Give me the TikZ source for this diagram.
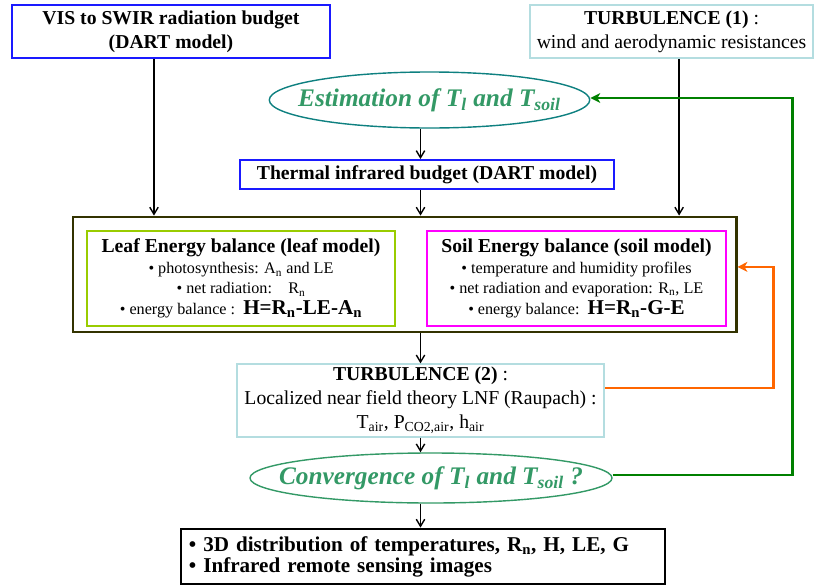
\documentclass[tikz,border=0pt]{standalone}
\usepackage{fontspec}
\setmainfont{Liberation Serif}
\usetikzlibrary{positioning, shapes.geometric, arrows.meta, calc}
\definecolor{dartblue}{HTML}{1A1AFF}
\definecolor{turbcyan}{HTML}{B4DDE0}
\definecolor{loopteal}{HTML}{0E8080}
\definecolor{loopgreen}{HTML}{339966}
\definecolor{backgreen}{HTML}{008000}
\definecolor{backorange}{HTML}{FF6600}
\definecolor{balolive}{HTML}{333300}
\definecolor{leafgreen}{HTML}{99CC00}
\definecolor{soilpink}{HTML}{FF00FF}

\begin{document}
\begin{tikzpicture}[x=0.025cm, y=-0.025cm,
        box/.style={draw, line width=1.4pt, inner sep=2pt, align=center,
                    font=\fontsize{14}{17}\selectfont},
        model/.style={draw, line width=0.8pt, inner sep=2pt, align=center,
                      font=\fontsize{11.5}{14}\selectfont},
        loop/.style={draw, ellipse, line width=1pt, inner ysep=0pt, text=loopgreen,
                     font=\fontsize{18}{20}\selectfont\bfseries\itshape},
        arr/.style={-{Straight Barb[length=5pt, width=6pt]}, line width=1pt},
        back/.style={-{Stealth[length=7pt, width=7pt, inset=2pt]}, line width=1.6pt}
    ]
    \useasboundingbox (0,0) rectangle (814,585);

    % Row 1: inputs
    \node[box, draw=dartblue, minimum width=7.95cm, minimum height=1.325cm] (vis) at (171,31.5)
        {\textbf{VIS to SWIR radiation budget}\\\textbf{(DART model)}};
    \node[box, draw=turbcyan, minimum width=7.075cm, minimum height=1.325cm] (turb1) at (671.5,31.5)
        {\textbf{TURBULENCE (1)} :\\wind and aerodynamic resistances};

    % Row 2: first estimate and thermal budget
    \node[loop, draw=loopteal, inner xsep=-0.45cm, minimum height=1.4cm] (estim) at (429.5,100)
        {Estimation of T\textsubscript{\textit{l}} and T\textsubscript{soil}};
    \node[box, draw=dartblue, minimum width=9.35cm, minimum height=0.725cm] (thermal) at (427,174.5)
        {\textbf{Thermal infrared budget (DART model)}};

    % Row 3: energy balances
    \node[box, draw=balolive, line width=2pt, minimum width=16.575cm, minimum height=2.875cm] (energy) at (404.5,274.5) {};
    \node[model, draw=leafgreen, minimum width=7.7cm, minimum height=2.375cm] (leaf) at (241,278.5)
        {{\fontsize{14}{15}\selectfont\bfseries Leaf Energy balance (leaf model)}\\[1pt]
         • photosynthesis: A\textsubscript{n} and LE\\
         • net radiation:\quad R\textsubscript{n}\\[1pt]
         • energy balance :\enspace{\fontsize{15}{14}\selectfont\bfseries H=R\textsubscript{n}-LE-A\textsubscript{n}}};
    \node[model, draw=soilpink, minimum width=7.475cm, minimum height=2.375cm] (soil) at (576.5,278.5)
        {{\fontsize{14}{15}\selectfont\bfseries Soil Energy balance (soil model)}\\[1pt]
         • temperature and humidity profiles\\
         • net radiation and evaporation: R\textsubscript{n}, LE\\[1pt]
         • energy balance:\enspace{\fontsize{15}{14}\selectfont\bfseries H=R\textsubscript{n}-G-E}};

    % Row 4: turbulence and convergence test
    \node[box, draw=turbcyan, minimum width=9.175cm, minimum height=1.775cm] (turb2) at (420.5,400.5)
        {\textbf{TURBULENCE (2)} :\\Localized near field theory LNF (Raupach) :\\
         T\textsubscript{air}, P\textsubscript{CO2,air}, h\textsubscript{air}};
    \node[loop, draw=loopgreen, inner xsep=-0.6cm, minimum height=1.25cm] (conv) at (431,478)
        {Convergence of T\textsubscript{\textit{l}} and T\textsubscript{soil} ?};

    % Row 5: outputs
    \node[box, draw=black, line width=2pt, minimum width=12.1cm, minimum height=1.375cm,
          text width=11.7cm, align=left, font=\fontsize{15}{15}\selectfont\bfseries] (result) at (423,556.5)
        {• 3D distribution of temperatures, R\textsubscript{n}, H, LE, G\\
         • Infrared remote sensing images};

    % Arrows: down the chain
    \draw[arr] ([xshift=-0.425cm]vis.south) -- ([xshift=-0.425cm]vis.south |- energy.north);
    \draw[arr] ([xshift=0.19cm]turb1.south) -- ([xshift=0.19cm]turb1.south |- energy.north);
    \draw[arr] (estim.south -| turb2) -- (thermal.north -| turb2);
    \draw[arr] (thermal.south -| turb2) -- (energy.north -| turb2);
    \draw[arr] (energy.south -| turb2) -- (turb2.north);
    \draw[arr] (turb2.south) -- (conv.north -| turb2);
    \draw[arr] (conv.south -| turb2) -- (result.north -| turb2);

    % Feedback loops
    \draw[back, backorange] ([yshift=0.31cm]turb2.east) -| ([xshift=0.9cm, yshift=0.19cm]energy.east)
        -- ([yshift=0.19cm]energy.east);
    \draw[back, backgreen] ([yshift=0.07cm]conv.east) -| ([xshift=5.05cm, yshift=0.05cm]estim.east)
        -- ([yshift=0.05cm]estim.east);
\end{tikzpicture}
\end{document}
